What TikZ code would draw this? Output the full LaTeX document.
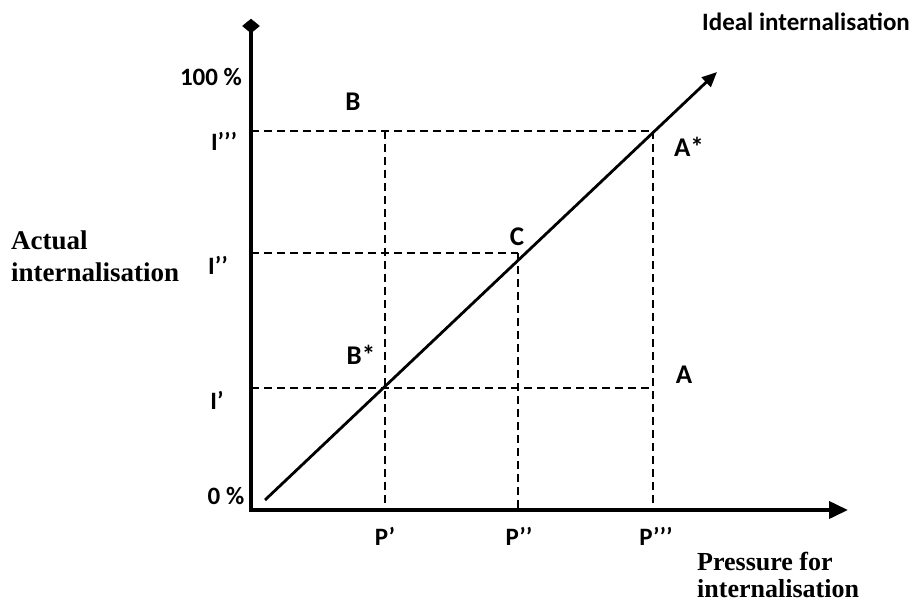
\documentclass[tikz,border=0pt]{standalone}
\usepackage{fontspec}
\setmainfont{Carlito}
\newfontfamily\serifbold{Liberation Serif}
\usetikzlibrary{arrows.meta,shapes.geometric}
\tikzset{
  axis/.style={line width=3.8pt},
  diag/.style={line width=2.8pt,-{Triangle[length=15pt,width=13pt]}},
  guide/.style={line width=2.4pt,dash pattern=on 8pt off 5pt},
  lab/.style={font=\fontsize{25}{27}\selectfont\bfseries,inner sep=0pt},
  big/.style={font=\fontsize{27}{29}\selectfont\bfseries,inner sep=0pt},
  slab/.style={font=\serifbold\fontsize{27}{31}\selectfont\bfseries,inner sep=0pt,align=left},
}
\begin{document}
\begin{tikzpicture}[x=1pt,y=-1pt]
\useasboundingbox (0,0) rectangle (919,603);
% axis coordinates
\coordinate (O) at (251,510);
\coordinate (Ytop) at (251,30);
\coordinate (Xend) at (848,510);
\coordinate (Ds) at (265,500);
\coordinate (De) at (717,72);
% intersection points on diagonal
\coordinate (Pb) at (385,388);
\coordinate (Pc) at (518,253);
\coordinate (Pa) at (653,131);
% axis feet
\coordinate (y1) at (251,388);
\coordinate (y2) at (251,253);
\coordinate (y3) at (251,131);
\coordinate (x1) at (385,510);
\coordinate (x2) at (518,510);
\coordinate (x3) at (653,510);
\coordinate (Bend) at (385,131);
\coordinate (Aend) at (653,388);
% dashed guides
\draw[guide] (y3) -- (Pa);
\draw[guide] (y2) -- (Pc);
\draw[guide] (y1) -- (Aend);
\draw[guide] (Bend) -- (x1);
\draw[guide] (Pc) -- (x2);
\draw[guide] (Pa) -- (x3);
% axes
\draw[axis] (251,512) -- (Ytop);
\draw[axis,-{Triangle[length=19pt,width=17pt]}] (249,510) -- (Xend);
\node[fill=black,draw=black,line width=0.5pt,minimum width=17pt,minimum height=14pt,inner sep=0pt,
  shape=diamond] (dia) at (251,26) {};
% diagonal
\draw[diag] (Ds) -- (De);
% labels
\node[lab] (l100) at (211,77) {100 \%};
\node[lab] (l0) at (226,496) {0 \%};
\node[lab] (li3) at (224,141) {I’’’};
\node[lab] (li2) at (218,265) {I’’};
\node[lab] (li1) at (217,400) {I’};
\node[lab] (lp1) at (385,536) {P’};
\node[lab] (lp2) at (519,536) {P’’};
\node[lab] (lp3) at (656,536) {P’’’};
\node[big] (lB) at (353,102) {B};
\node[big] (lAs) at (689,147) {A*};
\node[big] (lC) at (517,237) {C};
\node[big] (lBs) at (361,355) {B*};
\node[big] (lA) at (684,375) {A};
\node[lab,anchor=west] (ideal) at (702,22) {Ideal internalisation};
\node[slab,anchor=base west] (actual) at (11,281) {Actual\\[1pt]internalisation};
\node[slab,anchor=base west,font=\serifbold\fontsize{26}{27}\selectfont\bfseries] (press) at (697,597) {Pressure for\\internalisation};
\end{tikzpicture}
\end{document}
